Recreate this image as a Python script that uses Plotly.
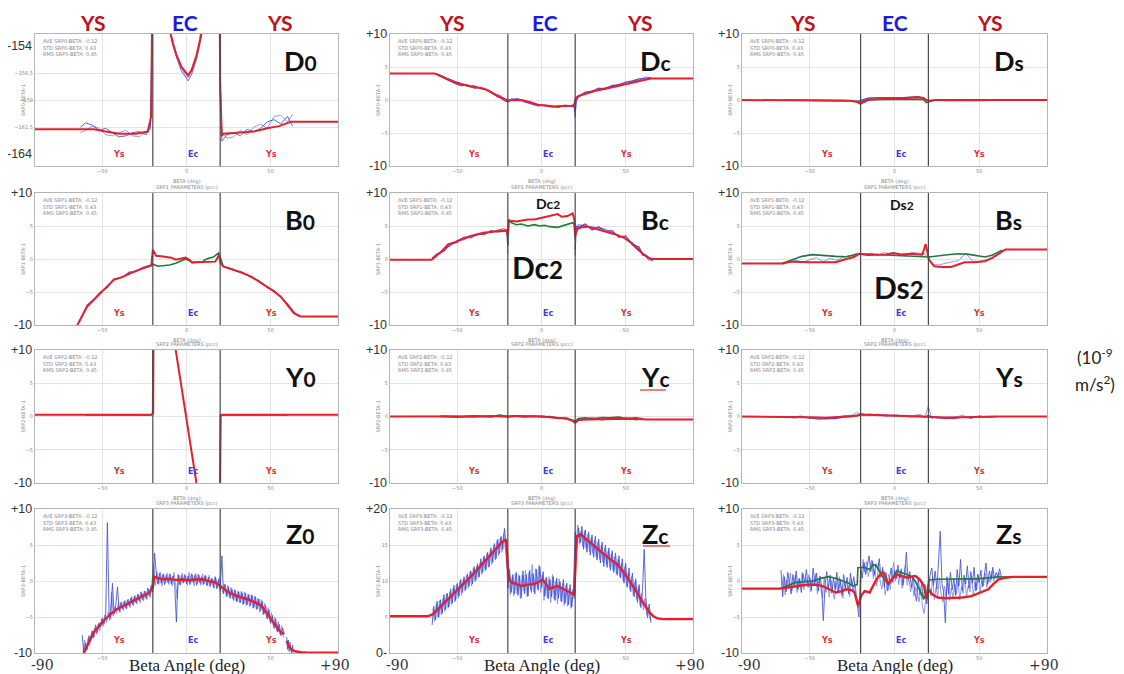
import plotly.graph_objects as go

# ---------------- data ----------------
# D0
D0_RED_X = [-90, -63, -55, -48, -40, -30, -23, -21, -20, -12, -10, -8, -6, -3, 0, 1, 3, 6, 8, 9, 12, 19.5, 20, 21, 22, 30, 40, 48, 55, 62, 90]
D0_RED = [-161.7, -161.7, -161.7, -161.9, -162.1, -162.1, -161.9, -160.5, -145, -145, -152.5, -153.8, -154.8, -155.9, -156.5, -156.7, -156.2, -154.8, -153.4, -152.5, -145, -145, -158, -162.3, -162.1, -162.0, -161.9, -161.6, -161.4, -161.0, -161.0]
D0_BLUE_X = [-63, -60, -56, -52, -48, -44, -40, -36, -32, -28, -24, -21.5, -21, -20, -12, -10, -6, -3, 0, 1, 3, 6, 9, 10, 12, 19.5, 20.2, 21, 24, 28, 32, 36, 40, 44, 48, 52, 56, 60, 63]
D0_BLUE1 = [-161.5, -161.1, -161.3, -161.8, -161.6, -162.0, -162.4, -162.3, -162.0, -161.9, -162.2, -161.5, -158, -145, -145, -152.6, -155.0, -156.3, -157.0, -157.2, -156.6, -155.2, -153.0, -152.3, -145, -145, -157, -162.8, -162.2, -162.0, -162.3, -161.7, -161.9, -161.6, -161.0, -160.8, -161.2, -160.5, -161.4]
D0_BLUE2 = [-162.0, -161.8, -161.4, -161.6, -162.2, -162.3, -162.0, -161.8, -162.3, -162.4, -161.9, -161.7, -159, -145, -145, -152.2, -154.7, -156.0, -156.8, -156.9, -156.3, -154.9, -152.8, -152.0, -145, -145, -158, -162.0, -162.5, -162.4, -161.8, -162.2, -161.5, -161.2, -161.6, -160.5, -160.4, -161.0, -160.3]

# Dc
DC_RED_X = [-90, -63.5, -58, -51.6, -46, -41.7, -38, -33.8, -30, -25.9, -20, -16, -12, -7, -2.2, 3, 7.7, 13, 18.5, 19.6, 20.3, 21.6, 27.5, 32, 37.4, 42, 47.3, 52, 57.2, 61, 65, 90]
DC_RED = [4.03, 4.03, 3.4, 2.7, 2.3, 2.0, 1.9, 1.68, 1.2, 0.56, -0.05, 0.0, 0.0, -0.3, -0.7, -0.85, -0.97, -0.9, -0.87, -0.6, 0.3, 0.56, 1.07, 1.4, 1.68, 1.95, 2.2, 2.5, 2.86, 3.1, 3.27, 3.27]
DC_BLUE_X = [-63, -60, -56, -52, -48, -44, -40, -36, -32, -28, -24, -21, -20, -18, -14, -10, -6, -2, 2, 6, 10, 14, 18, 19.5, 20, 20.5, 22, 26, 30, 34, 38, 42, 46, 50, 54, 58, 62, 65]
DC_BLUE1 = [4.0, 3.8, 3.3, 2.9, 2.5, 2.1, 2.2, 1.7, 1.6, 1.0, 0.6, 0.0, -0.4, 0.2, 0.1, -0.1, -0.5, -0.7, -0.9, -1.1, -0.9, -1.0, -0.8, -1.2, -2.6, -0.5, 0.7, 1.0, 1.4, 1.5, 1.9, 2.0, 2.4, 2.4, 2.8, 3.0, 3.5, 3.3]
DC_BLUE2 = [4.0, 3.6, 3.1, 2.6, 2.2, 2.3, 1.8, 1.9, 1.4, 0.8, 0.3, -0.2, -0.2, -0.1, 0.2, -0.3, -0.6, -0.9, -0.8, -1.0, -1.1, -0.8, -1.0, -1.0, -1.8, 0.0, 0.5, 1.2, 1.3, 1.8, 1.7, 2.2, 2.3, 2.7, 2.9, 3.2, 3.2, 3.4]

# Ds
DS_RED_X = [-90, -40, -30, -26, -22, -20.2, -18, -15, -10, -5, 0, 5, 10, 14, 17, 18.8, 20.8, 24, 30, 40, 50, 63, 90]
DS_RED = [0, 0, -0.05, -0.1, -0.3, -0.6, -0.3, 0.05, 0.1, 0.2, 0.2, 0.26, 0.3, 0.4, 0.3, 0.0, -0.1, 0.0, 0.0, -0.05, 0.0, 0.0, 0]
DS_GREEN_X = [-65, -50, -40, -30, -22, -20.2, -18, -15, -10, -5, 0, 5, 10, 14, 17, 18.8, 20.8, 24, 30, 40, 50, 63]
DS_GREEN = [0, -0.05, 0.0, -0.1, -0.2, -0.4, -0.1, 0.05, 0.1, 0.1, 0.15, 0.2, 0.15, 0.2, 0.1, -0.4, -0.2, 0.0, -0.05, 0.0, -0.05, 0.0]
DS_PURPLE_X = [-22, -18, -15, -10, -5, 0, 5, 10, 14, 18]
DS_PURPLE = [-0.2, 0.1, 0.3, 0.35, 0.3, 0.35, 0.35, 0.4, 0.5, 0.2]

# B0
B0_RED_X = [-66, -64.8, -59, -55, -51.2, -47, -43.4, -38, -33.6, -30, -25.8, -20.9, -20, -18.1, -15, -12.2, -9, -6.4, -3, -0.5, 2, 3.4, 6, 9.3, 13, 17.1, 19.4, 20.2, 21.8, 25, 28.6, 33, 38.4, 43, 48.1, 52, 56, 60, 63.8, 67.7, 90]
B0_RED = [-11, -10, -7.2, -6.2, -5.2, -4.2, -3.2, -2.7, -2.15, -1.8, -1.4, -1.0, 1.4, 0.5, 0.4, 0.3, 0.2, -0.1, 0.1, 0.2, -0.2, -0.55, -0.5, -0.45, -0.45, -0.4, 0.6, -0.6, -1.14, -1.4, -1.65, -2.1, -2.66, -3.4, -4.2, -4.9, -5.7, -6.9, -8.2, -8.7, -8.73]
B0_GREEN_X = [-20.9, -20, -17, -14.2, -10, -6.4, -3, -0.5, 2, 3.4, 6, 9.3, 11, 13.2, 16, 19, 20, 21.8]
B0_GREEN = [-1.0, -0.8, -1.1, -1.03, -0.9, -0.63, -0.3, 0.0, -0.3, -0.5, -0.45, -0.5, -0.1, 0.13, 0.3, 0.9, 0.28, -1.14]
B0_PURPLE_X = [-64, -59, -55, -51, -47, -43, -38, -34, -30, -26, -21, 0, 22, 25, 29, 33, 38, 43, 48, 52, 56, 60, 64, 67]
B0_PURPLE = [-9.6, -7.0, -6.1, -5.0, -4.3, -3.0, -2.8, -2.0, -1.9, -1.3, -0.9, None, -1.2, -1.3, -1.7, -2.0, -2.7, -3.3, -4.3, -4.8, -5.8, -6.8, -8.1, -8.7]

# Bc
BC_RED_X = [-90, -65.3, -60, -55.5, -51, -47.6, -42, -35.8, -30, -25.9, -21.9, -20.5, -20, -19.5, -18, -15, -12, -8, -4.2, -1, 1.7, 5, 9.6, 12, 15.5, 18.5, 19.5, 20, 20.5, 21.6, 24, 27.5, 32, 37.4, 43, 49.2, 53, 57.2, 60, 63.1, 66, 90]
BC_RED = [-0.1, -0.1, 1.0, 2.2, 2.6, 3.0, 3.5, 3.9, 4.1, 4.25, 4.3, 4.2, 3.5, 5.6, 5.8, 5.7, 5.8, 6.0, 6.0, 6.2, 6.3, 6.5, 6.8, 6.4, 6.5, 6.9, 6.0, 3.5, 4.0, 4.6, 4.8, 4.9, 4.6, 4.25, 3.8, 3.2, 2.5, 1.45, 0.8, 0.2, 0.0, 0.0]
BC_GREEN_X = [-20, -19.5, -18, -15, -12, -8, -4.2, -1, 1.7, 5, 9.6, 12, 15.5, 18.5, 19.5, 20]
BC_GREEN = [2.0, 6.0, 5.5, 5.2, 5.3, 5.0, 5.2, 5.0, 5.1, 4.9, 4.8, 5.0, 5.3, 5.5, 5.2, 3.0]
BC_BLUE_X = [-65, -62, -58, -54, -50, -46, -42, -38, -34, -30, -26, -22, -20.5, -20, 0, 20, 20.5, 22, 26, 30, 34, 38, 42, 46, 50, 54, 58, 60, 62, 64, 66]
BC_BLUE1 = [0.0, 0.5, 1.5, 2.0, 2.8, 2.9, 3.5, 3.6, 4.1, 4.0, 4.4, 4.6, 4.0, 0.8, None, 0.5, 4.5, 5.2, 5.0, 4.8, 4.6, 4.5, 4.0, 3.6, 3.0, 2.5, 1.5, 1.0, 0.3, -0.2, 0.0]
BC_BLUE2 = [0.1, 0.8, 1.2, 2.3, 2.5, 3.3, 3.2, 3.8, 3.7, 4.3, 4.1, 4.2, 4.5, 2.0, None, 1.5, 5.0, 4.8, 5.3, 4.4, 4.9, 4.2, 4.3, 3.3, 3.5, 2.2, 1.8, 0.6, 0.6, 0.2, -0.3]

# Bs
BS_RED_X = [-90, -66.6, -60, -54.6, -50, -44.6, -40, -34.6, -31, -28.6, -24, -20.6, -16, -10.6, -5, -0.6, 4, 9.4, 13, 16.4, 18.4, 20.4, 23.4, 28, 33.4, 38, 41.4, 47, 53.4, 58, 63.4, 65.4, 90]
BS_RED = [-0.7, -0.7, -0.4, -0.5, -0.5, -0.5, -0.45, -0.5, -0.2, 0.0, 0.3, 0.8, 0.6, 0.66, 0.7, 0.9, 0.7, 0.8, 0.7, 0.66, 2.25, -0.1, -1.1, -1.2, -1.2, -0.8, -0.5, -0.5, -0.35, 0.2, 1.2, 1.45, 1.45]
BS_GREEN_X = [-66.6, -60, -54.6, -48.6, -42, -34.6, -28.6, -24, -20.6, 20.4, 25.4, 30, 37.4, 44, 53.4, 58, 63.4]
BS_GREEN = [-0.7, -0.1, 0.4, 0.66, 0.5, 0.4, 0.35, 0.6, 0.8, 0.3, 0.5, 0.6, 0.8, 0.7, 0.3, 0.6, 1.35]
BS_BLUE_X = [-66, -62, -58, -54, -50, -46, -42, -38, -34, -30, -26, -22, -18, -14, -10, -6, -2, 2, 6, 10, 14, 18, 20, 22, 26, 30, 34, 38, 42, 46, 50, 54, 58, 62, 65]
BS_BLUE1 = [-0.9, -0.3, -0.2, -0.5, -0.1, 0.2, -0.4, 0.1, -0.2, 0.3, 0.5, 0.9, 0.6, 0.9, 0.5, 1.0, 0.7, 0.8, 0.4, 1.0, 0.9, 0.8, 0.0, -0.8, -0.9, -0.7, -0.5, -0.2, 0.9, -0.3, -0.4, -0.1, 0.2, 0.8, 1.4]

# Y0
Y0_RED_X = [-90, -60, -40, -21, -19.8, -19.5, -8.5, -6.4, 0, 5.9, 7.5, 19.5, 20.3, 21, 40, 60, 90]
Y0_RED = [0.25, 0.25, 0.2, 0.25, 0.5, 25, 13.4, 10, -0.4, -10, -12.6, -25, 0.2, 0.25, 0.25, 0.25, 0.25]
Y0_PURPLE_X = [-60, -40, -21, -20.2, -19.9, 0, 19.8, 20.2, 21, 40, 60]
Y0_PURPLE = [0.2, 0.15, 0.2, 0.3, 15, None, -15, 0.1, 0.2, 0.2, 0.2]

# Yc
YC_RED_X = [-90, -60, -40, -25, -20, -15, -10, -5, 0, 5, 10, 15, 18, 20, 22, 30, 40, 50, 60, 63, 90]
YC_RED = [0, 0, 0.05, 0.0, 0.1, 0.05, -0.05, 0.0, 0.05, -0.1, -0.25, -0.35, -0.6, -0.9, -0.5, -0.45, -0.4, -0.35, -0.4, -0.45, -0.45]
YC_SER_X = [-60, -50, -40, -30, -25, -20, -15, -10, -5, 0, 5, 10, 15, 18, 20, 22, 26, 30, 36, 40, 46, 50, 56, 60]
YC_GREEN = [0.0, -0.1, 0.1, -0.05, 0.2, 0.0, 0.1, 0.1, 0.0, 0.0, -0.1, -0.2, -0.3, -0.5, -0.7, -0.3, -0.2, -0.35, -0.15, -0.2, -0.1, -0.3, -0.2, -0.35]
YC_BLUE = [0.1, 0.0, -0.1, 0.1, 0.0, -0.1, 0.05, 0.0, 0.1, -0.05, 0.0, -0.3, -0.2, -0.6, -1.0, -0.6, -0.4, -0.2, -0.5, -0.3, -0.4, -0.2, -0.5, -0.3]

# Ys
YS_RED_X = [-90, -60, -50, -40, -30, -22, -20, -15, -10, -5, 0, 5, 10, 15, 20, 25, 30, 40, 50, 60, 90]
YS_RED = [0, -0.05, -0.1, -0.2, -0.05, 0.1, 0.3, 0.25, 0.2, 0.2, 0.15, 0.1, 0.1, 0.05, 0.0, -0.1, -0.15, -0.1, -0.05, 0.0, 0]
YS_SER_X = [-60, -55, -50, -45, -40, -35, -30, -25, -22, -20, -18, -15, -10, -5, 0, 5, 10, 15, 18, 20, 22, 25, 30, 35, 40, 45, 50, 55, 60]
YS_BLUE = [-0.1, 0.1, -0.3, -0.2, -0.4, -0.1, 0.1, 0.2, 0.6, 0.3, 0.1, 0.4, 0.2, 0.3, 0.0, 0.2, 0.1, 0.3, 0.0, 1.6, -0.3, 0.0, -0.4, -0.2, 0.2, -0.3, 0.1, -0.1, 0.0]
YS_PURPLE = [-0.2, -0.1, -0.2, -0.4, -0.3, -0.3, -0.1, 0.0, 0.2, 0.4, 0.3, 0.2, 0.3, 0.1, 0.2, 0.1, 0.0, 0.1, -0.1, 0.2, -0.1, -0.2, -0.2, -0.3, -0.1, -0.2, 0.0, -0.1, 0.0]

# Z0
Z0_RED_X = [-62, -60.9, -58, -55.1, -52, -49.2, -45, -41.4, -37, -33.6, -30, -25.8, -22, -20, -19.1, -17, -14.2, -10, -6.4, -3, 1.4, 5, 9.3, 13, 17.1, 19, 21, 24, 26.8, 30, 32.7, 36, 38.5, 41, 44.4, 47, 50.2, 53, 55.1, 58]
Z0_RED = [-11, -10, -8.5, -7.1, -6.3, -5.5, -4.6, -3.9, -3.4, -3.0, -2.6, -2.05, -1.6, -0.9, 0.6, 0.4, 0.25, 0.3, 0.16, 0.2, 0.1, 0.2, 0.25, 0.0, -0.2, -0.5, -0.9, -1.4, -1.8, -2.1, -2.3, -2.5, -2.7, -3.0, -3.4, -4.2, -5.3, -6.2, -6.9, -7.4]
Z0_TAIL_X = [59.5, 61, 63, 65, 68, 72, 90]
Z0_TAIL = [-8.3, -9.2, -9.6, -9.8, -9.9, -9.95, -9.95]
Z0_BLUE1_X = list(range(-62, 59))
Z0_BLUE1 = [-7.5, -9.8, -8.6, -9.5, -7.6, -8.4, -6.9, -7.8, -6.1, -7.2,
            -5.8, -6.4, -5.1, -6.0, -4.6, 8.1, -4.2, -5.2, -0.3, -4.6,
            -3.3, -0.8, -4.2, -3.0, -3.9, -2.8, -3.8, -2.6, -3.5, -2.3,
            -3.3, -2.1, -3.0, -1.8, -2.8, -1.5, -2.6, -1.4, -2.4, -1.0,
            -2.1, -0.6, -1.6, 3.9, 1.2, -0.4, 1.1, -0.3, 0.9, -0.5,
            0.8, -0.2, 1.0, -0.4, 0.7, -0.6, -5.7, 0.9, -0.5, 0.8,
            -0.3, 0.9, -0.4, 0.7, -0.5, 1.0, -0.2, 0.8, -0.6, 0.9,
            -0.3, 0.6, -0.5, 0.8, -0.6, 0.5, -0.8, 0.4, -0.9, 0.6,
            -1.1, 0.2, -1.4, 3.5, -1.8, -0.5, -2.2, -0.8, -2.4, -1.1,
            -2.7, -1.3, -2.9, -1.5, -3.0, -1.6, -3.2, -1.7, -3.3, -1.9,
            -3.4, -2.0, -3.7, -2.2, -3.9, -2.5, -4.1, -2.8, -4.6, -3.4,
            -5.3, -4.0, -5.9, -4.8, -6.6, -5.3, -7.1, -6.0, -7.6, -6.5,
            -7.2]
Z0_BLUE2_X = [v + 0.5 for v in range(-62, 58)]
Z0_BLUE2 = [-9.9, -8.2, -9.6, -8.0, -8.9, -7.2, -8.0, -6.5, -7.4, -6.0,
            -6.9, -5.3, -6.3, -4.7, -5.8, -4.3, -5.5, -1.5, -4.9, -3.6,
            -4.5, -3.1, -4.4, -2.9, -4.1, -2.7, -3.9, -2.5, -3.7, -2.2,
            -3.4, -2.0, -3.2, -1.9, -3.0, -1.7, -2.8, -1.4, -2.6, -1.1,
            -2.3, -0.4, 2.2, -0.6, 1.3, -0.5, 1.2, -0.7, 1.0, -0.3,
            1.1, -0.5, 0.9, -0.7, 1.2, -0.2, -2.5, 0.8, -0.6, 1.1,
            -0.2, 0.7, -0.6, 1.2, -0.3, 0.9, -0.7, 1.1, -0.4, 0.8,
            -0.6, 1.0, -0.4, 0.7, -0.7, 0.8, -0.5, 0.3, -1.0, 0.4,
            -0.9, 0.5, -0.8, -1.6, -0.4, -2.0, -0.6, -2.3, -0.9, -2.5,
            -1.2, -2.8, -1.4, -3.0, -1.4, -3.3, -1.5, -3.4, -1.8, -3.6,
            -1.9, -3.8, -2.1, -4.0, -2.4, -4.3, -2.6, -4.7, -3.1, -5.1,
            -3.7, -5.6, -4.4, -6.2, -5.0, -6.9, -5.6, -7.4, -6.2, -7.9]
Z0_BLOB_X = [59.5, 60, 60.5, 61, 61.5, 62, 62.5, 63, 63.5, 64]
Z0_BLOB = [-7.8, -9.5, -8.2, -9.8, -8.5, -9.2, -10.3, -8.9, -9.9, -9.6]

# Zc
ZC_RED_X = [-90, -67.5, -64.5, -61.5, -56, -51.6, -47, -41.7, -37, -31.8, -28, -23.9, -21, -20, -19, -18, -15, -12, -8, -4.2, -2, 0.7, 3, 4.6, 7, 9.6, 12, 15.5, 18, 19.4, 20.3, 21, 23.4, 26, 29.3, 33, 37.2, 41, 45.1, 49, 53, 56, 59, 61.5, 63.9, 66.5, 68.9, 72, 90]
ZC_RED = [5.1, 5.1, 5.4, 6.1, 7.3, 8.4, 9.5, 10.7, 11.9, 13.2, 14.2, 15.3, 15.8, 12.0, 10.2, 9.8, 9.6, 9.3, 9.5, 9.6, 9.8, 10.2, 9.5, 8.9, 9.1, 9.3, 9.0, 8.6, 8.3, 8.0, 13.5, 16.2, 16.5, 15.9, 15.3, 14.5, 13.7, 13.0, 12.3, 11.2, 9.8, 8.7, 7.5, 6.5, 5.7, 5.1, 4.8, 4.7, 4.7]
ZC_BLUE1_X = list(range(-65, 66))
ZC_BLUE1 = [3.9, 6.5, 4.6, 7.2, 5.0, 7.4, 5.5, 8.1, 6.0, 8.3,
            6.4, 8.9, 6.9, 9.4, 7.3, 9.7, 7.9, 10.2, 8.4, 10.6,
            8.8, 11.0, 9.3, 11.4, 9.6, 12.0, 10.1, 12.4, 10.6, 13.1,
            11.2, 13.5, 11.6, 14.0, 12.0, 14.6, 12.6, 15.2, 13.1, 15.8,
            13.8, 16.2, 14.4, 17.3, 14.9, 9.0, 11.6, 8.4, 10.9, 8.2,
            11.2, 8.0, 10.7, 7.7, 11.4, 8.2, 10.9, 7.9, 11.5, 8.4,
            11.0, 8.2, 11.6, 8.7, 12.0, 9.1, 11.3, 7.9, 10.5, 7.5,
            10.2, 7.8, 10.6, 7.3, 10.4, 7.6, 9.9, 7.1, 10.2, 6.9,
            9.7, 6.7, 9.5, 6.4, 9.0, 16.8, 14.6, 17.4, 15.3, 17.6,
            14.4, 17.1, 14.0, 16.8, 13.6, 16.4, 13.3, 16.2, 12.9, 15.8,
            12.5, 15.4, 12.0, 15.0, 11.9, 14.6, 11.5, 14.2, 11.2, 13.9,
            10.8, 13.5, 10.4, 13.1, 9.7, 12.5, 9.1, 11.8, 8.5, 11.1,
            7.8, 10.3, 7.0, 9.5, 6.3, 8.7, 14.4, 7.6, 4.9, 6.8,
            4.2]
ZC_BLUE2_X = [v + 0.5 for v in range(-65, 65)]
ZC_BLUE2 = [6.2, 4.4, 6.8, 4.9, 7.3, 5.3, 7.6, 5.8, 8.2, 6.2,
            8.5, 6.7, 9.0, 7.1, 9.5, 7.6, 10.0, 8.0, 10.3, 8.6,
            10.8, 9.0, 11.3, 9.3, 11.8, 9.9, 12.1, 10.4, 12.6, 10.9,
            13.3, 11.4, 13.8, 11.9, 14.3, 12.3, 14.9, 12.9, 15.6, 13.5,
            16.0, 14.0, 16.6, 14.6, 12.5, 10.8, 8.1, 10.6, 7.9, 11.0,
            8.3, 10.9, 7.5, 10.8, 8.6, 11.5, 7.8, 11.2, 8.8, 12.3,
            8.5, 11.7, 8.9, 12.2, 8.4, 10.8, 7.3, 10.4, 7.7, 10.6,
            7.0, 10.9, 7.5, 10.0, 6.8, 10.3, 7.2, 9.7, 6.6, 9.4,
            6.5, 9.0, 6.2, 8.8, 7.5, 14.8, 17.8, 15.1, 16.9, 14.8,
            16.9, 14.5, 16.5, 14.1, 16.0, 13.8, 15.7, 13.3, 15.4, 13.0,
            15.0, 12.6, 14.6, 12.3, 14.1, 11.9, 13.8, 11.5, 13.4, 11.0,
            13.0, 10.6, 12.5, 10.0, 12.0, 9.3, 11.2, 8.8, 10.6, 8.0,
            9.9, 7.4, 9.2, 6.6, 8.3, 6.0, 7.6, 5.3, 6.4, 4.6]

# Zs
ZS_RED_X = [-90, -67.6, -63, -58.6, -53, -48.6, -44, -40.6, -37, -34.6, -31, -28.6, -25, -23.6, -21.6, -19.5, -17.6, -14.6, -12.5, -10.6, -8.5, -6.6, -3.6, -1, 1.4, 4, 7.4, 10, 12.4, 15, 17.4, 19, 20.4, 22, 25.4, 30, 35.4, 40, 45.4, 50, 55.4, 58, 61.4, 65.4, 70, 90]
ZS_RED = [-1.06, -1.06, -0.9, -0.7, -0.55, -0.5, -0.6, -0.9, -1.3, -1.6, -1.4, -1.15, -1.3, -1.6, -3.4, -2.0, -1.4, -1.6, -0.6, 0.23, 0.9, 1.24, -0.46, 0.4, 0.9, 0.7, 0.46, 0.6, 0.7, 0.2, -0.7, -2.5, -1.15, -1.8, -2.3, -2.4, -2.4, -2.3, -2.1, -1.7, -1.15, -0.5, 0.23, 0.46, 0.57, 0.57]
ZS_GREEN_X = [-67.6, -63, -58.6, -53, -48.6, -43, -38.6, -34, -30.6, -27, -24.6, -22, -21.6, -18, -14.6, -12.5, -10.6, -8.5, -6.6, -3.6, -1, 1.4, 5, 9.4, 12, 14.4, 17.4, 19, 20.4, 25, 35.4, 45, 49.4, 55, 61.4, 65.4, 70]
ZS_GREEN = [-1.06, -0.6, -0.23, -0.1, 0.0, 0.4, 0.6, 0.3, 0.0, -0.3, -0.7, -0.5, 1.84, 1.9, 1.6, 2.3, 2.07, 1.2, 0.46, -0.46, 0.6, 1.4, 1.1, 0.7, 0.1, -1.15, -2.5, -1.6, 0.14, 0.25, 0.32, 0.3, 0.3, 0.4, 0.6, 0.55, 0.57]
ZS_BLUE1_X = list(range(-67, 64))
ZS_BLUE1 = [1.5, -2.2, 0.6, -1.5, 1.2, -0.4, -1.8, 0.9, -0.6, 1.4,
            -1.2, 0.3, -1.6, 1.0, -0.2, 1.6, -0.9, 0.5, -1.3, 1.8,
            -0.4, 1.1, -1.4, 0.7, -0.8, -5.5, -0.6, 1.3, -0.9, 0.8,
            -1.7, 0.4, -1.2, 1.2, -1.6, 0.2, -2.0, 0.9, -1.0, 0.5,
            -1.8, 1.1, -0.7, 0.6, -1.9, -3.0, -5.0, 1.8, 0.4, 2.6,
            0.9, 2.2, 3.5, 1.3, 2.8, 0.8, 2.4, 1.6, 3.1, 0.5,
            1.9, -0.8, 1.2, -1.4, 0.6, 1.8, -0.2, 1.5, 0.3, 2.2,
            0.4, 1.7, -0.6, 1.1, 4.0, 0.2, 1.3, -0.9, 0.8, -1.6,
            -2.8, 0.4, -1.9, -0.3, -2.6, -0.5, -3.2, -1.0, 0.8, 1.8,
            -0.6, 1.4, -1.1, 2.8, 6.9, -0.4, -1.5, -5.8, 0.6, -1.8,
            1.2, -1.2, 0.3, -2.0, 1.6, -0.7, 3.0, -1.3, 0.8, -0.4,
            2.1, -1.0, 1.3, -0.3, 1.9, -1.4, 0.9, -0.2, 1.5, -0.8,
            0.7, 2.5, -0.4, 1.4, 0.2, 1.9, 0.3, 1.2, 0.6, 1.7,
            0.7]
ZS_BLUE2_X = [v + 0.5 for v in range(-67, 63)]
ZS_BLUE2 = [-0.8, 0.9, -1.9, 0.2, -0.9, 1.1, -1.4, -0.2, 0.8, -1.6,
            0.4, -0.9, 1.2, -1.2, 0.5, -0.4, 0.9, -1.5, 0.2, -0.7,
            1.0, -1.8, 0.3, -1.0, -2.4, 0.5, -1.6, -0.3, -2.2, 0.1,
            -1.3, -2.5, -0.2, -1.5, 0.6, -1.1, -2.4, -0.1, -1.4, -0.6,
            -2.2, 0.3, -1.3, -0.2, -1.6, -3.8, -2.6, 0.9, 3.0, 1.2,
            2.7, 0.6, 1.9, 2.9, 0.3, 1.5, -0.7, 2.4, 0.1, -1.1,
            0.6, -1.9, -0.5, 0.9, -1.2, 0.7, 2.6, 0.0, 1.6, -0.5,
            1.2, -1.0, 0.9, 2.2, -0.6, 0.4, -1.5, -0.3, -2.1, -0.8,
            -1.6, -2.9, -1.2, -3.6, -4.5, -2.3, -1.6, -0.4, -2.1, 0.6,
            -2.6, -0.9, -2.2, 0.5, -1.8, -2.9, -0.7, -2.4, 0.2, -2.7,
            -1.0, -2.3, -0.4, -1.9, 0.1, -2.6, -0.8, -1.7, 0.4, -2.2,
            -0.6, -1.5, 0.6, -1.9, -0.2, -1.2, 0.9, -1.6, 0.1, -0.7,
            1.1, -0.9, 0.5, -0.2, 1.4, 0.0, 0.8, 0.3, 1.2, 0.5]

ECLIPSE_EDGES = [-20, 20]
X_TICKS = [-50, 0, 50]
X_TICKS_BOTTOM = [-50, 50]

# ---------------- layout helpers ----------------
# The page body has an 8px default margin, so the figure is placed at (8, 8).
OFF = 8
W, H = 1124 - OFF, 674 - OFF
COLS = [(35, 338), (390, 693), (742, 1047)]
ROWS = [(34, 166), (193, 325), (350, 483), (509, 653)]


def PX(x):
    return (x - OFF) / W


def PY(y):
    return 1 - (y - OFF) / H


RED = '#e3202c'
GREEN = '#1f7a3d'
BLUE = '#2b3bd6'
LBLUE = '#6f7de6'
PURPLE = '#7b3fc4'
STYLE = {
    'red': dict(color=RED, width=2.0),
    'redz': dict(color=RED, width=2.4),
    'green': dict(color=GREEN, width=1.6),
    'blue': dict(color=BLUE, width=0.9),
    'lblue': dict(color=LBLUE, width=0.9),
    'purple': dict(color=PURPLE, width=1.3),
}

PANELS = [
    dict(r=0, c=0, lab='D', sub='0', rng=[-165.1, -152.85], grid=[-156.5, -159, -161.5], big=[('-154', -154), ('-164', -164)],
         series=[(D0_BLUE_X, D0_BLUE2, 'lblue'), (D0_BLUE_X, D0_BLUE1, 'blue'), (D0_RED_X, D0_RED, 'red')]),
    dict(r=0, c=1, lab='D', sub='c', rng=[-10, 10], grid=[-5, 0, 5], big=[('+10', 10), ('-10', -10)],
         series=[(DC_BLUE_X, DC_BLUE2, 'purple'), (DC_BLUE_X, DC_BLUE1, 'blue'), (DC_RED_X, DC_RED, 'red')]),
    dict(r=0, c=2, lab='D', sub='s', rng=[-10, 10], grid=[-5, 0, 5], big=[('+10', 10), ('-10', -10)],
         series=[(DS_PURPLE_X, DS_PURPLE, 'purple'), (DS_GREEN_X, DS_GREEN, 'green'), (DS_RED_X, DS_RED, 'red')]),
    dict(r=1, c=0, lab='B', sub='0', rng=[-10, 10], grid=[-5, 0, 5], big=[('+10', 10), ('-10', -10)],
         series=[(B0_PURPLE_X, B0_PURPLE, 'purple'), (B0_GREEN_X, B0_GREEN, 'green'), (B0_RED_X, B0_RED, 'red')]),
    dict(r=1, c=1, lab='B', sub='c', rng=[-10, 10], grid=[-5, 0, 5], big=[('+10', 10), ('-10', -10)],
         series=[(BC_BLUE_X, BC_BLUE2, 'purple'), (BC_BLUE_X, BC_BLUE1, 'blue'), (BC_GREEN_X, BC_GREEN, 'green'), (BC_RED_X, BC_RED, 'red')]),
    dict(r=1, c=2, lab='B', sub='s', rng=[-10, 10], grid=[-5, 0, 5], big=[('+10', 10), ('-10', -10)],
         series=[(BS_BLUE_X, BS_BLUE1, 'lblue'), (BS_GREEN_X, BS_GREEN, 'green'), (BS_RED_X, BS_RED, 'red')]),
    dict(r=2, c=0, lab='Y', sub='0', rng=[-10, 10], grid=[-5, 0, 5], big=[('+10', 10), ('-10', -10)],
         series=[(Y0_PURPLE_X, Y0_PURPLE, 'purple'), (Y0_RED_X, Y0_RED, 'red')]),
    dict(r=2, c=1, lab='Y', sub='c', rng=[-10, 10], grid=[-5, 0, 5], big=[('+10', 10), ('-10', -10)],
         series=[(YC_SER_X, YC_BLUE, 'purple'), (YC_SER_X, YC_GREEN, 'green'), (YC_RED_X, YC_RED, 'red')]),
    dict(r=2, c=2, lab='Y', sub='s', rng=[-10, 10], grid=[-5, 0, 5], big=[('+10', 10), ('-10', -10)],
         series=[(YS_SER_X, YS_BLUE, 'lblue'), (YS_SER_X, YS_PURPLE, 'purple'), (YS_RED_X, YS_RED, 'red')]),
    dict(r=3, c=0, lab='Z', sub='0', rng=[-10, 10], grid=[-5, 0, 5], big=[('+10', 10), ('-10', -10)],
         series=[(Z0_BLUE2_X, Z0_BLUE2, 'lblue'), (Z0_BLUE1_X, Z0_BLUE1, 'blue'), (Z0_BLOB_X, Z0_BLOB, 'blue'),
                 (Z0_RED_X, Z0_RED, 'redz'), (Z0_TAIL_X, Z0_TAIL, 'redz')]),
    dict(r=3, c=1, lab='Z', sub='c', rng=[0, 20], grid=[5, 10, 15], big=[('+20', 20), ('0-', 0)],
         series=[(ZC_BLUE2_X, ZC_BLUE2, 'lblue'), (ZC_BLUE1_X, ZC_BLUE1, 'blue'), (ZC_RED_X, ZC_RED, 'redz')]),
    dict(r=3, c=2, lab='Z', sub='s', rng=[-10, 10], grid=[-5, 0, 5], big=[('+10', 10), ('-10', -10)],
         series=[(ZS_BLUE2_X, ZS_BLUE2, 'lblue'), (ZS_BLUE1_X, ZS_BLUE1, 'blue'), (ZS_GREEN_X, ZS_GREEN, 'green'), (ZS_RED_X, ZS_RED, 'redz')]),
]

SRP = {'D': 'SRP0', 'B': 'SRP1', 'Y': 'SRP2', 'Z': 'SRP3'}

fig = go.Figure()
annotations = []
shapes = []
layout = {}
FONT = 'Lato, Open Sans, sans-serif'
BIGFONT = 'Liberation Sans, Arial, sans-serif'
TINY = dict(family='DejaVu Sans, sans-serif', size=5, color='#888')


def ann(**kw):
    kw.setdefault('showarrow', False)
    kw.setdefault('xanchor', 'center')
    kw.setdefault('yanchor', 'middle')
    annotations.append(kw)


for i, p in enumerate(PANELS):
    n = i + 1
    sx = '' if n == 1 else str(n)
    (x0, x1), (y0, y1) = COLS[p['c']], ROWS[p['r']]
    layout['xaxis' + sx] = dict(domain=[PX(x0), PX(x1)], range=[-90, 90], anchor='y' + sx,
                                showline=True, mirror=True, linecolor='#b5b5b5', linewidth=1,
                                showgrid=True, gridcolor='#e4e4e4', zeroline=False,
                                tickvals=X_TICKS_BOTTOM if p['r'] == 3 else X_TICKS,
                                ticks='', tickfont=TINY, fixedrange=True,
                                minor=dict(tickvals=[0], showgrid=True, gridcolor='#e4e4e4', ticks=''))
    layout['yaxis' + sx] = dict(domain=[PY(y1), PY(y0)], range=p['rng'], anchor='x' + sx,
                                showline=True, mirror=True, linecolor='#b5b5b5', linewidth=1,
                                showgrid=True, gridcolor='#e4e4e4', zeroline=False,
                                tickvals=p['grid'], ticks='', tickfont=TINY, fixedrange=True)
    for xs, ys, kind in p['series']:
        fig.add_trace(go.Scatter(x=xs, y=ys, mode='lines', line=STYLE[kind],
                                 opacity=0.85 if kind in ('blue', 'lblue') else 1.0,
                                 xaxis='x' + sx, yaxis='y' + sx, showlegend=False, hoverinfo='skip'))
    for e in ECLIPSE_EDGES:
        shapes.append(dict(type='line', xref='x' + sx, yref='y' + sx + ' domain', x0=e, x1=e, y0=0, y1=1,
                           line=dict(color='#4a4a4a', width=1.2)))
    # big y labels
    for txt, val in p['big']:
        ann(text=txt, xref='x' + sx + ' domain', yref='y' + sx, x=-0.003, y=val, xanchor='right',
            font=dict(family=BIGFONT, size=12.5, color='#333'))
    # region labels
    for txt, xv, col in [('Ys', -40, '#d8343a'), ('Ec', 4, '#3a3ae0'), ('Ys', 50, '#d8343a')]:
        ann(text='<b>' + txt + '</b>', xref='x' + sx, yref='y' + sx + ' domain', x=xv, y=0.09,
            font=dict(family='DejaVu Sans, sans-serif', size=8, color=col))
    # panel label
    ann(text='<b>%s<span style="font-size:21px">%s</span></b>' % (p['lab'], p['sub']),
        xref='x' + sx + ' domain', yref='y' + sx + ' domain', x=0.875, y=0.83 if p['r'] == 3 else 0.80,
        font=dict(family=FONT, size=27, color='#111'))
    # tiny stats text
    srp = SRP[p['lab']]
    ann(text='AVE %s-BETA: %s<br>STD %s-BETA: %s<br>RMS %s-BETA: %s' % (srp, '-0.12', srp, '0.43', srp, '0.45'),
        xref='x' + sx + ' domain', yref='y' + sx + ' domain', x=0.02, y=0.985,
        xanchor='left', yanchor='top', align='left', font=TINY)
    if p['r'] > 0:
        ann(text='%s PARAMETERS (pcc)' % srp, xref='x' + sx + ' domain', yref='y' + sx + ' domain',
            x=0.5, y=1.0, yanchor='bottom', font=TINY)
    if p['r'] < 3:
        ann(text='BETA (deg)', xref='x' + sx + ' domain', yref='y' + sx + ' domain',
            x=0.5, y=-0.075, yanchor='top', font=TINY)
    ann(text='%s-BETA-1' % srp, xref='x' + sx + ' domain', yref='y' + sx + ' domain',
        x=-0.04, y=0.5, textangle=-90, font=TINY)
    if p['r'] == 3:
        ann(text='-90', xref='x' + sx + ' domain', yref='paper', x=0.025, y=PY(665),
            font=dict(family='DejaVu Serif, serif', size=14, color='#333'))
        ann(text='+90', xref='x' + sx + ' domain', yref='paper', x=0.99, y=PY(665),
            font=dict(family='DejaVu Serif, serif', size=14, color='#333'))
        ann(text='Beta Angle (deg)', xref='x' + sx + ' domain', yref='paper', x=0.5, y=PY(665),
            font=dict(family='Liberation Serif, serif', size=17, color='#222'))

# special labels
for txt, x, y, size in [('Dc<span style="font-size:12px">2</span>', 548, 203, 14),
                        ('Dc<span style="font-size:24px">2</span>', 537, 267, 30),
                        ('Ds<span style="font-size:12px">2</span>', 902, 205, 14),
                        ('Ds<span style="font-size:24px">2</span>', 899, 287, 30)]:
    ann(text='<b>' + txt + '</b>', xref='paper', yref='paper', x=PX(x), y=PY(y),
        font=dict(family=FONT, size=size, color='#111'))

# column headers
for cx, txt, col in [(93, 'YS', '#c0121c'), (185, 'EC', '#1a1ae0'), (280, 'YS', '#c0121c'),
                     (452, 'YS', '#c0121c'), (545, 'EC', '#1a1ae0'), (640, 'YS', '#c0121c'),
                     (803, 'YS', '#c0121c'), (895, 'EC', '#1a1ae0'), (990, 'YS', '#c0121c')]:
    ann(text='<b>' + txt + '</b>', xref='paper', yref='paper', x=PX(cx), y=PY(23),
        font=dict(family=FONT, size=21, color=col))

# unit label
ann(text='(10<sup>-9</sup>', xref='paper', yref='paper', x=PX(1095), y=PY(356),
    font=dict(family=FONT, size=17, color='#222'))
ann(text='m/s<sup>2</sup>)', xref='paper', yref='paper', x=PX(1095), y=PY(383),
    font=dict(family=FONT, size=17, color='#222'))

# red spell-check underlines below "Yc" and "Zc"
for ux0, ux1, uy in [(640, 666, 390), (643, 670, 546)]:
    shapes.append(dict(type='line', xref='paper', yref='paper', x0=PX(ux0), x1=PX(ux1), y0=PY(uy), y1=PY(uy),
                       line=dict(color='#e03030', width=1.2)))

fig.update_layout(**layout)
fig.update_layout(width=W, height=H, margin=dict(l=0, r=0, t=0, b=0),
                  paper_bgcolor='white', plot_bgcolor='white', showlegend=False,
                  annotations=annotations, shapes=shapes)
fig.write_html('out.html')
